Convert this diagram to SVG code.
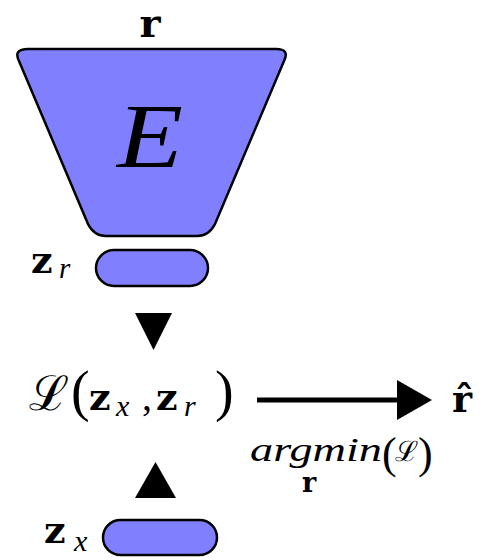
<svg xmlns="http://www.w3.org/2000/svg" width="481" height="560" viewBox="0 0 481 560">
<style>
.blk{fill:#8080ff;stroke:#000;stroke-width:2.5}
.sb{font-family:"DejaVu Serif","Liberation Serif",serif;font-weight:bold;font-style:normal;fill:#000}
.si{font-family:"Liberation Serif",serif;font-style:italic;font-weight:normal;fill:#000}
.sr{font-family:"Liberation Serif",serif;font-weight:normal;font-style:normal;fill:#000}
.cal{font-family:"DejaVu Serif","Liberation Serif",serif;font-style:normal;font-weight:normal;fill:#000}
.head{fill:#000;stroke:none}
</style>
<rect width="481" height="560" fill="#fff"/>
<g id="encoder">
<path class="blk" d="M28 49 L276 49 Q290 49 284 61 L215 224 Q209 236 197 236 L106 236 Q94 236 88 224 L19 61 Q13 49 28 49 Z"/>
<text class="sb" x="150" y="37" font-size="40" text-anchor="middle">r</text>
<text class="si" x="117" y="167" font-size="90" textLength="66" lengthAdjust="spacingAndGlyphs">E</text>
</g>
<g id="zr">
<rect class="blk" x="96" y="250" width="112" height="36" rx="18"/>
<text font-size="38"><tspan class="sb" x="31" y="273">z</tspan><tspan class="si" x="59" y="278" font-size="29">r</tspan></text>
</g>
<g id="loss">
<text font-size="38"><tspan class="cal" x="29" y="410" font-size="48">ℒ</tspan><tspan class="sr" x="71" y="410" font-size="56">(</tspan><tspan class="sb" x="89" y="410">z</tspan><tspan class="si" x="116" y="416" font-size="30">x</tspan><tspan class="sr" x="142" y="410" font-size="40">,</tspan><tspan class="sb" x="156" y="410">z</tspan><tspan class="si" x="184" y="416" font-size="30">r</tspan><tspan class="sr" x="215" y="410" font-size="56">)</tspan></text>
</g>
<g id="rhat">
<text class="sb" x="462" y="412" font-size="38" text-anchor="middle">r̂</text>
</g>
<g id="zx">
<rect class="blk" x="103" y="520" width="114" height="35" rx="17.5"/>
<text font-size="38"><tspan class="sb" x="44" y="543">z</tspan><tspan class="si" x="74" y="551" font-size="30">x</tspan></text>
</g>
<g id="connectors">
<polygon class="head" points="135,313 172,313 153.5,350"/>
<line x1="257" y1="400" x2="400" y2="400" stroke="#000" stroke-width="5"/>
<polygon class="head" points="397,380 432,400 397,420"/>
<polygon class="head" points="135,498 176,498 155.5,462"/>
<text font-size="33"><tspan class="si" x="250" y="461" textLength="132" lengthAdjust="spacingAndGlyphs">argmin</tspan><tspan class="sr" x="382" y="468" font-size="44">(</tspan><tspan class="cal" x="395" y="461" font-size="28">ℒ</tspan><tspan class="sr" x="418" y="468" font-size="44">)</tspan></text>
<text class="sb" x="309" y="492" font-size="27" text-anchor="middle">r</text>
</g>
</svg>
